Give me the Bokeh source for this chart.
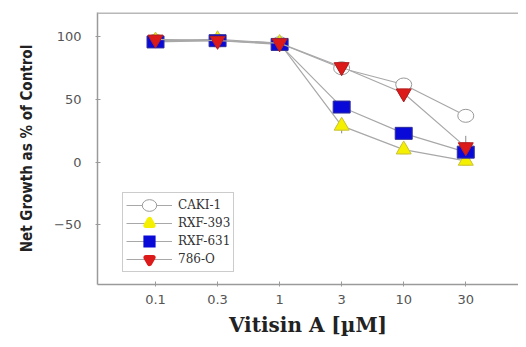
from bokeh.plotting import figure
from bokeh.models import (Range1d, FixedTicker, Legend, LegendItem,
                          ColumnDataSource, Whisker, Span)
from bokeh.embed import file_html
from bokeh.resources import INLINE

# ---- data ----
concentrations = ["0.1", "0.3", "1", "3", "10", "30"]
x_idx = [0, 1, 2, 3, 4, 5]
caki1 = [97, 97, 95, 75, 62, 37]
rxf393 = [97, 98, 95, 29, 10, 1]
rxf631 = [96, 97, 94, 44, 23, 8]
o786 = [98, 97, 95, 76, 55, 12]
err393 = [0, 0, 0, 6, 2, 3]
err786 = [0, 0, 0, 3, 3, 9]
y_ticks = [-50, 0, 50, 100]

p = figure(width=518, height=339, output_backend="svg", toolbar_location=None,
           x_range=Range1d(-0.935, 5.85), y_range=Range1d(-97.7, 119.5),
           min_border_left=97, min_border_right=0, min_border_top=12,
           min_border_bottom=49)
p.outline_line_color = None
p.xgrid.visible = False
p.ygrid.visible = False
p.background_fill_color = "white"

xax = p.below[0]
yax = p.left[0]

gray = "#9a9a9a"
p.add_layout(Span(location=119.5, dimension="width", line_color="#b8b8b8",
                  line_width=3))

xax.ticker = FixedTicker(ticks=x_idx)
xax.major_label_overrides = {i: c for i, c in zip(x_idx, concentrations)}
yax.ticker = FixedTicker(ticks=y_ticks)
for ax in [xax, yax]:
    ax.axis_line_color = gray
    ax.axis_line_width = 1.5
    ax.major_tick_line_color = gray
    ax.major_tick_in = 3
    ax.major_tick_out = 2
    ax.minor_tick_line_color = None
    ax.major_label_text_color = "#555555"
    ax.major_label_text_font = "DejaVu Sans"
    ax.major_label_text_font_size = "13px"

xax.major_label_standoff = 8
yax.major_label_standoff = 14
xax.axis_label = "Vitisin A [µM]"
xax.axis_label_text_font = "DejaVu Serif"
xax.axis_label_text_font_style = "bold"
xax.axis_label_text_font_size = "20px"
xax.axis_label_text_color = "#222222"
xax.axis_label_standoff = 6
yax.axis_label = "Net Growth as % of Control"
yax.axis_label_text_font = "DejaVu Sans Condensed"
yax.axis_label_text_font_style = "bold"
yax.axis_label_text_font_size = "15px"
yax.axis_label_text_color = "#222222"
yax.axis_label_standoff = 15

# error bars
for vals, errs in [(rxf393, err393), (o786, err786)]:
    src = ColumnDataSource(dict(x=x_idx, lo=[v - e for v, e in zip(vals, errs)],
                                hi=[v + e for v, e in zip(vals, errs)]))
    p.add_layout(Whisker(source=src, base="x", lower="lo", upper="hi",
                         line_color="#888888", line_width=1,
                         upper_head=None, lower_head=None))

items = []
line_kw = dict(line_color="#a8a8a8", line_width=1.2)

# CAKI-1
l1 = p.line(x_idx, caki1, **line_kw)
s1 = p.ellipse(x_idx, caki1, width=16, height=13, width_units="screen",
               height_units="screen", fill_color="white", line_color="#999999")
items.append(LegendItem(label="CAKI-1", renderers=[l1, s1]))

# RXF-393 (small thick-stroked copy underneath gives a bigger legend swatch)
l2 = p.line(x_idx, rxf393, **line_kw)
k2 = p.scatter(x_idx, rxf393, marker="triangle", size=7, fill_color="#f5f000",
               line_color="#f5f000", line_width=5, line_join="round")
p.scatter(x_idx, rxf393, marker="triangle", size=15, fill_color="#f5f000",
          line_color="#c8c040")
items.append(LegendItem(label="RXF-393", renderers=[l2, k2]))

# RXF-631
l3 = p.line(x_idx, rxf631, **line_kw)
k3 = p.scatter(x_idx, rxf631, marker="square", size=6, fill_color="#0a0ad8",
               line_color="#0a0ad8", line_width=5, line_join="miter")
p.rect(x_idx, rxf631, width=17, height=12, width_units="screen",
       height_units="screen", fill_color="#0a0ad8", line_color="#30309a")
items.append(LegendItem(label="RXF-631", renderers=[l3, k3]))

# 786-O
l4 = p.line(x_idx, o786, **line_kw)
k4 = p.scatter(x_idx, o786, marker="inverted_triangle", size=7,
               fill_color="#dd1a1a", line_color="#dd1a1a", line_width=5,
               line_join="round")
p.scatter(x_idx, o786, marker="inverted_triangle", size=15,
          fill_color="#dd1a1a", line_color="#b02020")
items.append(LegendItem(label="786-O", renderers=[l4, k4]))

leg = Legend(items=items, location=(25, 12), label_text_font="DejaVu Serif",
             label_text_font_size="12px", label_text_color="#333333",
             border_line_color="#999999", border_line_width=1,
             glyph_width=46, glyph_height=18, label_height=18, spacing=0,
             padding=3, margin=0, label_standoff=6)
p.add_layout(leg, "center")

open("out.html", "w").write(file_html(p, INLINE))
